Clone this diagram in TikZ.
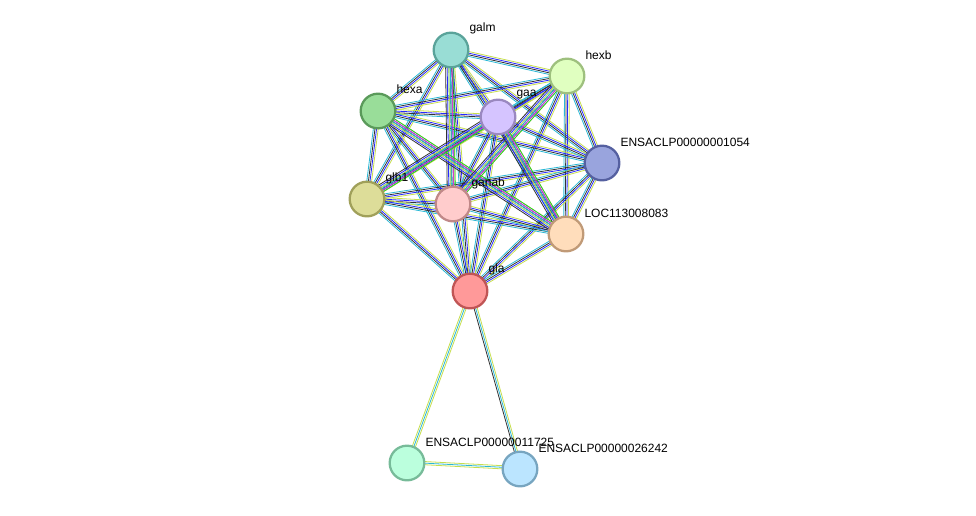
\documentclass[tikz,border=0pt]{standalone}
\usepackage{fontspec}
\setmainfont{Liberation Sans}
\usetikzlibrary{calc,backgrounds}
\definecolor{tm}{RGB}{199,222,77}
\definecolor{bl}{RGB}{40,40,255}
\definecolor{dk}{RGB}{50,50,50}
\definecolor{db}{RGB}{41,184,214}
\definecolor{ex}{RGB}{214,60,204}
\definecolor{gr}{RGB}{40,200,40}
\tikzset{every picture/.style={line width=0.75pt}}
\tikzset{prot/.style={circle,draw,line width=1.7pt,minimum size=26pt,inner sep=0pt},
  lbl/.style={anchor=west,inner sep=0pt,font=\fontsize{9}{10}\selectfont}}
\newcommand\edgeab[3]{\foreach \c [count=\i] in {#3}{%
  \draw[\c,line width=0.6pt] ($(#1.center)!{(\i-2.5)*1.2pt}!90:(#2.center)$) -- ($(#2.center)!{(\i-2.5)*1.2pt}!-90:(#1.center)$);}}
\begin{document}
\begin{tikzpicture}[x=0.75pt,y=0.75pt,yscale=-1,xscale=1]
\useasboundingbox (0,0) rectangle (976,515);
% proteins
\node[prot,fill={rgb,255:red,153;green,221;blue,213},draw={rgb,255:red,90;green,163;blue,154}] (galm) at (451,50) {};
\node[prot,fill={rgb,255:red,224;green,255;blue,192},draw={rgb,255:red,158;green,192;blue,126}] (hexb) at (567,76) {};
\node[prot,fill={rgb,255:red,153;green,221;blue,153},draw={rgb,255:red,90;green,154;blue,90}] (hexa) at (378,111) {};
\node[prot,fill={rgb,255:red,213;green,196;blue,255},draw={rgb,255:red,154;green,136;blue,192}] (gaa) at (498,117) {};
\node[prot,fill={rgb,255:red,153;green,164;blue,221},draw={rgb,255:red,85;green,96;blue,160}] (ens1054) at (602,163) {};
\node[prot,fill={rgb,255:red,221;green,221;blue,153},draw={rgb,255:red,160;green,160;blue,90}] (glb1) at (367,199) {};
\node[prot,fill={rgb,255:red,255;green,204;blue,204},draw={rgb,255:red,192;green,136;blue,136}] (ganab) at (453,204) {};
\node[prot,fill={rgb,255:red,255;green,221;blue,187},draw={rgb,255:red,192;green,154;blue,119}] (loc) at (566,234) {};
\node[prot,fill={rgb,255:red,255;green,153;blue,153},draw={rgb,255:red,192;green,85;blue,85}] (gla) at (470,291) {};
\node[prot,fill={rgb,255:red,187;green,255;blue,221},draw={rgb,255:red,119;green,187;blue,153}] (ens11725) at (407,463) {};
\node[prot,fill={rgb,255:red,187;green,229;blue,255},draw={rgb,255:red,119;green,165;blue,192}] (ens26242) at (520,469) {};
% links
\begin{scope}[on background layer]
\foreach \a/\b in {galm/hexb,galm/hexa,galm/gaa,galm/glb1,galm/ganab,galm/loc,galm/gla,galm/ens1054,
  hexb/hexa,hexb/gaa,hexb/ens1054,hexb/glb1,hexb/ganab,hexb/loc,hexb/gla,
  hexa/gaa,hexa/ens1054,hexa/glb1,hexa/ganab,hexa/loc,hexa/gla,
  gaa/ens1054,gaa/glb1,gaa/ganab,gaa/loc,gaa/gla,
  ens1054/glb1,ens1054/ganab,ens1054/loc,ens1054/gla,
  glb1/ganab,glb1/loc,glb1/gla,ganab/loc,ganab/gla,loc/gla}
  {\edgeab{\a}{\b}{tm,bl,dk,db}}
\foreach \a/\b in {galm/ganab,hexa/loc,gaa/glb1,hexb/ganab,gaa/loc}
  {\edgeab{\a}{\b}{gr,ex,db,tm,bl,dk}}
\edgeab{gla}{ens11725}{tm,db,tm}
\edgeab{gla}{ens26242}{tm,db,dk}
\edgeab{ens11725}{ens26242}{tm,db,tm}
\end{scope}
% labels
\node[lbl] at ($(galm)+(18,-22)$) {galm};
\node[lbl] at ($(hexb)+(18,-21)$) {hexb};
\node[lbl] at ($(hexa)+(18,-22)$) {hexa};
\node[lbl] at ($(gaa)+(18,-22)$) {gaa};
\node[lbl] at ($(ens1054)+(18,-21)$) {ENSACLP00000001054};
\node[lbl] at ($(glb1)+(18,-21)$) {glb1};
\node[lbl] at ($(ganab)+(18,-21)$) {ganab};
\node[lbl] at ($(loc)+(18,-21)$) {LOC113008083};
\node[lbl] at ($(gla)+(18,-22)$) {gla};
\node[lbl] at ($(ens11725)+(18,-21)$) {ENSACLP00000011725};
\node[lbl] at ($(ens26242)+(18,-21)$) {ENSACLP00000026242};
\end{tikzpicture}
\end{document}
